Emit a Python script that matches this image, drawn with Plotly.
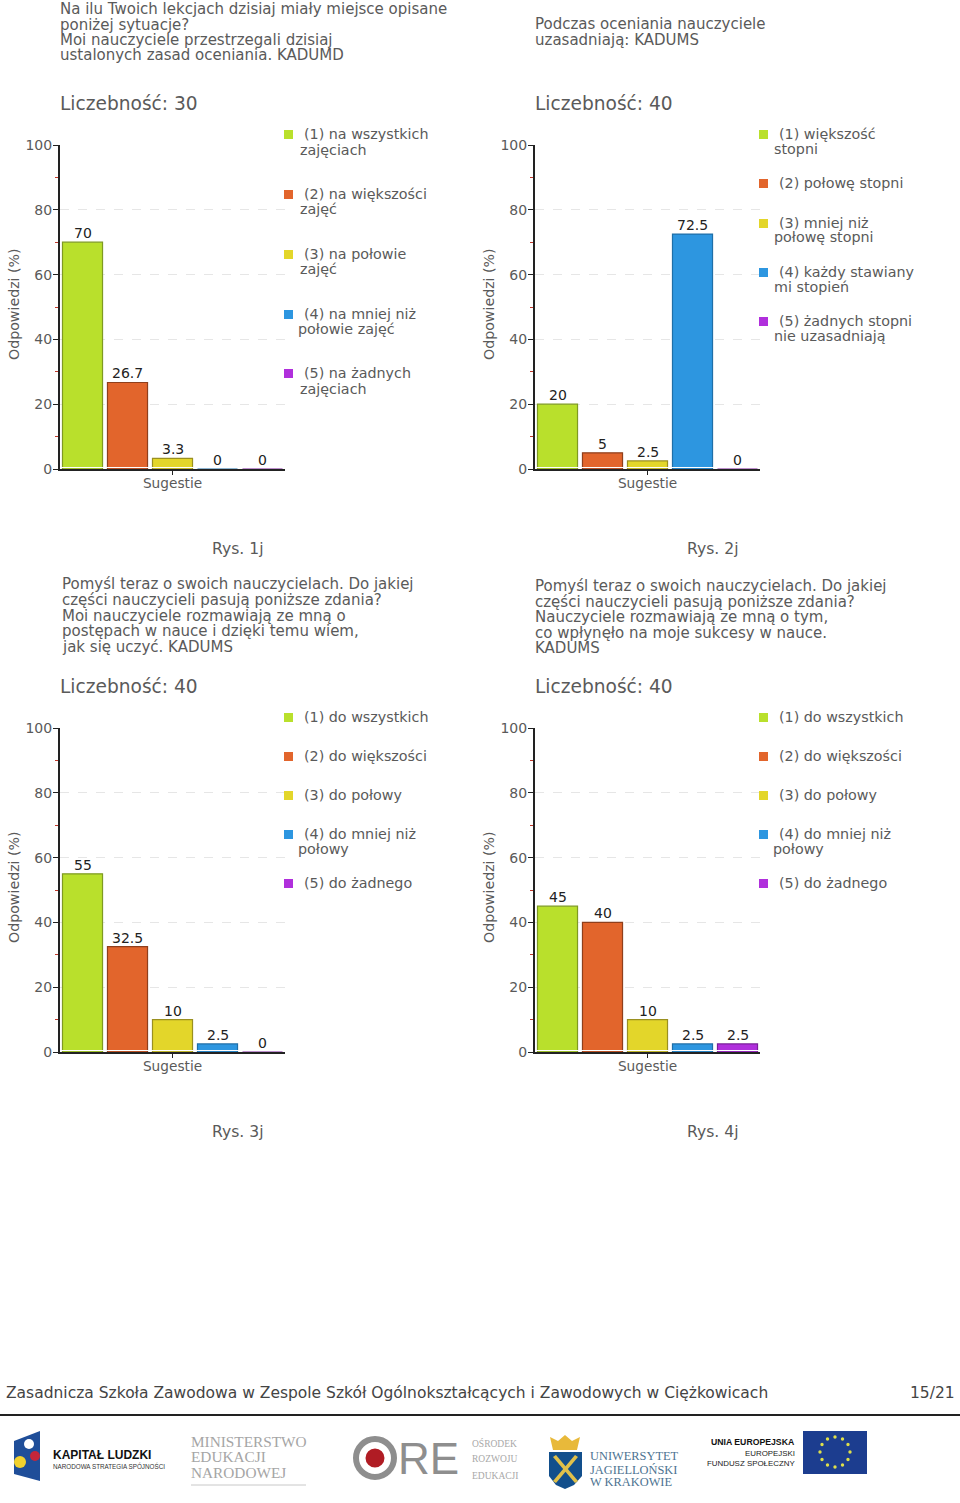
import plotly.graph_objects as go
import math

W, H = 960, 1503
GREY = "#5a5a5a"
FONT = "DejaVu Sans"

colors = ["#b9e02c", "#e2652c", "#e3d62a", "#2d96e0", "#b02fdc"]
edges = ["#7f9a22", "#8f3f1c", "#9a9020", "#1f6fa8", "#7a1f99"]
positions = [0, 1, 2, 3, 4]
category_label = "Sugestie"
y_ticks = [0, 20, 40, 60, 80, 100]

values_1 = [70, 26.7, 3.3, 0, 0]
values_2 = [20, 5, 2.5, 72.5, 0]
values_3 = [55, 32.5, 10, 2.5, 0]
values_4 = [45, 40, 10, 2.5, 2.5]
labels_1 = ["70", "26.7", "3.3", "0", "0"]
labels_2 = ["20", "5", "2.5", "72.5", "0"]
labels_3 = ["55", "32.5", "10", "2.5", "0"]
labels_4 = ["45", "40", "10", "2.5", "2.5"]

titles = [
    [(60, 9, "Na ilu Twoich lekcjach dzisiaj miały miejsce opisane"), (60, 25, "poniżej sytuacje?"),
     (60, 40, "Moi nauczyciele przestrzegali dzisiaj"), (60, 55, "ustalonych zasad oceniania. KADUMD")],
    [(535, 24, "Podczas oceniania nauczyciele"), (535, 40, "uzasadniają: KADUMS")],
    [(62, 584, "Pomyśl teraz o swoich nauczycielach. Do jakiej"), (62, 600, "części nauczycieli pasują poniższe zdania?"),
     (62, 616, "Moi nauczyciele rozmawiają ze mną o"), (62, 631, "postępach w nauce i dzięki temu wiem,"),
     (62, 647, "jak się uczyć. KADUMS")],
    [(535, 586, "Pomyśl teraz o swoich nauczycielach. Do jakiej"), (535, 602, "części nauczycieli pasują poniższe zdania?"),
     (535, 617, "Nauczyciele rozmawiają ze mną o tym,"), (535, 633, "co wpłynęło na moje sukcesy w nauce."),
     (535, 648, "KADUMS")],
]
counts = ["Liczebność: 30", "Liczebność: 40", "Liczebność: 40", "Liczebność: 40"]
captions = ["Rys. 1j", "Rys. 2j", "Rys. 3j", "Rys. 4j"]

legend_1 = [(134, "(1) na wszystkich", 150, 300, "zajęciach"), (194, "(2) na większości", 209, 300, "zajęć"),
            (254, "(3) na połowie", 269, 300, "zajęć"), (314, "(4) na mniej niż", 329, 298, "połowie zajęć"),
            (373, "(5) na żadnych", 389, 300, "zajęciach")]
legend_2 = [(134, "(1) większość", 149, 774, "stopni"), (183, "(2) połowę stopni", None, None, None),
            (223, "(3) mniej niż", 237, 774, "połowę stopni"), (272, "(4) każdy stawiany", 287, 774, "mi stopień"),
            (321, "(5) żadnych stopni", 336, 774, "nie uzasadniają")]
legend_3 = [(717, "(1) do wszystkich", None, None, None), (756, "(2) do większości", None, None, None),
            (795, "(3) do połowy", None, None, None), (834, "(4) do mniej niż", 849, 298, "połowy"),
            (883, "(5) do żadnego", None, None, None)]
legend_4 = [(717, "(1) do wszystkich", None, None, None), (756, "(2) do większości", None, None, None),
            (795, "(3) do połowy", None, None, None), (834, "(4) do mniej niż", 849, 773, "połowy"),
            (883, "(5) do żadnego", None, None, None)]

panels = [
    (values_1, labels_1, 60, 145, legend_1, 0),
    (values_2, labels_2, 535, 145, legend_2, 475),
    (values_3, labels_3, 60, 728, legend_3, 0),
    (values_4, labels_4, 535, 728, legend_4, 475),
]
caption_pos = [(238, 549), (713, 549), (238, 1132), (713, 1132)]
count_pos = [(60, 103), (535, 103), (60, 686), (535, 686)]

px = lambda x: x / W
py = lambda y: 1 - y / H


def note(x, y, text, size=14, color=GREY, anchor="left", family=FONT, angle=0):
    return dict(x=px(x), y=py(y), xref="paper", yref="paper", text=text, showarrow=False, xanchor=anchor,
                yanchor="middle", textangle=angle, font=dict(family=family, size=size, color=color), align=anchor,
                borderpad=0, borderwidth=0)


def box(x0, y0, x1, y1, fill, line=None):
    return dict(type="rect", xref="paper", yref="paper", x0=px(x0), y0=py(y0), x1=px(x1), y1=py(y1),
                fillcolor=fill, line=dict(width=1 if line else 0, color=line or fill))


def poly(points, fill):
    path = "M " + " L ".join(f"{px(a):.5f},{py(b):.5f}" for a, b in points) + " Z"
    return dict(type="path", xref="paper", yref="paper", path=path, fillcolor=fill, line=dict(width=0))


def disc(cx, cy, r, fill, line=None, lw=0):
    return dict(type="circle", xref="paper", yref="paper", x0=px(cx - r), x1=px(cx + r), y0=py(cy - r), y1=py(cy + r),
                fillcolor=fill, line=dict(width=lw, color=line or fill))


fig = go.Figure()
annotations, shapes = [], []
layout_axes = {}

for i, (vals, labs, left, top, legend, dx) in enumerate(panels):
    n = "" if i == 0 else str(i + 1)
    fig.add_trace(go.Bar(
        x=positions, y=vals, width=0.89, cliponaxis=False,
        marker=dict(color=colors, line=dict(color=edges, width=1.2)),
        xaxis="x" + n, yaxis="y" + n, showlegend=False))
    layout_axes["xaxis" + n] = dict(
        domain=[px(left), px(left + 225)], anchor="y" + n, range=[-0.5, 4.5], tickvals=[2], ticktext=[category_label],
        ticks="outside", ticklen=4, tickcolor="#222", showgrid=False, zeroline=False, showline=True,
        linecolor="#222", linewidth=2, tickfont=dict(family=FONT, size=13.7, color=GREY), automargin=False,
        ticklabelstandoff=-3, layer="below traces")
    layout_axes["yaxis" + n] = dict(
        domain=[py(top + 324), py(top)], anchor="x" + n, range=[0, 100], tickvals=y_ticks,
        ticks="outside", ticklen=5, tickcolor="#222", showline=True, linecolor="#222", linewidth=2, zeroline=False,
        tickfont=dict(family=FONT, size=14, color=GREY), showgrid=True, griddash="dash", gridcolor="#e6e6e6",
        gridwidth=1, minor=dict(dtick=10, ticks="outside", ticklen=3, tickcolor="#c0392b", showgrid=False),
        automargin=False, layer="below traces", ticklabelstandoff=-2)
    # thin white gap between the bars and the axis line
    shapes.append(dict(type="rect", xref="x" + n, yref="y" + n, x0=-0.5, x1=4.5, y0=0.3, y1=0.6,
                       fillcolor="white", line=dict(width=0), layer="above"))
    for p, v, t in zip(positions, vals, labs):
        annotations.append(dict(x=p, y=v, xref="x" + n, yref="y" + n, text=t, showarrow=False, yanchor="middle",
                                yshift=9, font=dict(family=FONT, size=14, color="#222222")))
    annotations.append(note(left - 46, top + 159, "Odpowiedzi (%)", 14.2, angle=-90, anchor="center"))
    for x, y, t in titles[i]:
        annotations.append(note(x, y, t, 15))
    annotations.append(note(*count_pos[i], counts[i], 18.6))
    annotations.append(note(*caption_pos[i], captions[i], 15.6, anchor="center"))
    for c, (y1, t1, y2, x2, t2) in enumerate(legend):
        shapes.append(box(284 + dx, y1 - 4, 293 + dx, y1 + 5, colors[c]))
        annotations.append(note(304 + dx, y1, t1, 14.3))
        if t2:
            annotations.append(note(x2, y2, t2, 14.3))

# footer
annotations.append(note(6, 1393, "Zasadnicza Szkoła Zawodowa w Zespole Szkół Ogólnokształcących i Zawodowych w Ciężkowicach", 15.5, "#444444"))
annotations.append(note(955, 1393, "15/21", 15.5, "#444444", anchor="right"))
shapes.append(dict(type="line", xref="paper", yref="paper", x0=0, x1=1, y0=py(1415), y1=py(1415), line=dict(color="#222", width=2)))

# logo: Kapitał Ludzki
shapes.append(poly([(14, 1441), (40, 1431), (40, 1481), (14, 1474)], "#1f4e99"))
shapes.append(disc(29, 1444, 5, "#ffffff"))
shapes.append(disc(20, 1462, 6, "#f2d22e"))
shapes.append(disc(35, 1456, 5, "#c5263a"))
annotations.append(note(53, 1455, "<b>KAPITAŁ LUDZKI</b>", 12, "#111111", family="Liberation Sans"))
annotations.append(note(53, 1466, "NARODOWA STRATEGIA SPÓJNOŚCI", 6.3, "#333333", family="Liberation Sans"))
# logo: Ministerstwo
for y, t in [(1441, "MINISTERSTWO"), (1456, "EDUKACJI"), (1472, "NARODOWEJ")]:
    annotations.append(note(191, y, t, 15.3, "#a5a5a5", family="Liberation Serif"))
shapes.append(dict(type="line", xref="paper", yref="paper", x0=px(191), x1=px(306), y0=py(1485), y1=py(1485), line=dict(color="#c8c8c8", width=1)))
# logo: ORE
shapes.append(disc(375, 1458, 19, "rgba(0,0,0,0)", "#8e8e8e", 6))
shapes.append(disc(375, 1458, 9.5, "#b01c24"))
annotations.append(note(398, 1458, "RE", 44, "#8e8e8e", family="Liberation Sans"))
for y, t in [(1443, "OŚRODEK"), (1459, "ROZWOJU"), (1476, "EDUKACJI")]:
    annotations.append(note(472, y, t, 9.5, "#a8a8a8", family="Liberation Serif"))
# logo: UJ
shapes.append(poly([(550, 1437), (558, 1441), (565, 1435), (572, 1441), (580, 1437), (577, 1450), (553, 1450)], "#e8b93a"))
shapes.append(poly([(549, 1452), (582, 1452), (582, 1476), (574, 1485), (565, 1489), (556, 1485), (549, 1476)], "#124f8c"))
shapes.append(poly([(553, 1457), (556, 1455), (578, 1481), (575, 1483)], "#e0c04a"))
shapes.append(poly([(578, 1457), (575, 1455), (553, 1481), (556, 1483)], "#e0c04a"))
for y, t in [(1456, "UNIWERSYTET"), (1470, "JAGIELLOŃSKI"), (1482, "W KRAKOWIE")]:
    annotations.append(note(590, y, t, 12.4, "#4d7391", family="Liberation Serif"))
# logo: EU
annotations.append(note(795, 1442, "<b>UNIA EUROPEJSKA</b>", 8.7, "#111111", anchor="right", family="Liberation Sans"))
annotations.append(note(795, 1453, "EUROPEJSKI", 7.9, "#222222", anchor="right", family="Liberation Sans"))
annotations.append(note(795, 1463, "FUNDUSZ SPOŁECZNY", 7.9, "#222222", anchor="right", family="Liberation Sans"))
shapes.append(box(803, 1431, 867, 1474, "#1c3d8f"))
for k in range(12):
    a = math.radians(30 * k)
    shapes.append(disc(835 + 15 * math.cos(a), 1452 + 15 * math.sin(a), 1.7, "#dfe04a"))

fig.update_layout(width=W, height=H, margin=dict(l=0, r=0, t=0, b=0, pad=0, autoexpand=False), paper_bgcolor="white",
                  plot_bgcolor="white", bargap=0.1, annotations=annotations, shapes=shapes, **layout_axes)
fig.write_html("out.html", config={"displayModeBar": False},
               post_script="document.body.style.margin='0';document.documentElement.style.overflow='hidden';")
